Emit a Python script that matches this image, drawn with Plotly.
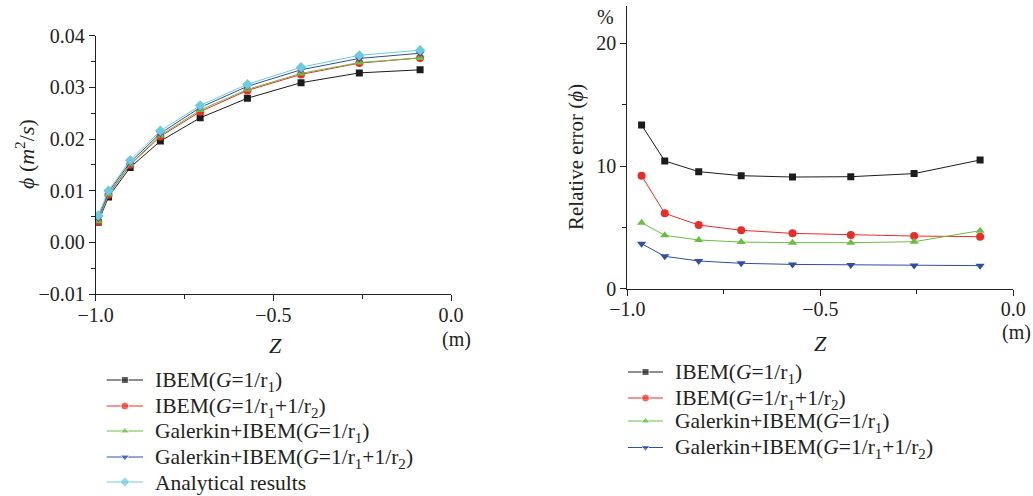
import plotly.graph_objects as go

# ---------------- data ----------------
z_left = [-0.993, -0.964, -0.903, -0.818, -0.706, -0.573, -0.422, -0.258, -0.087]
phi_ibem_g1 = [0.0039, 0.0088, 0.0145, 0.0196, 0.0241, 0.0279, 0.0309, 0.0328, 0.0334]
phi_ibem_g12 = [0.0040, 0.0092, 0.0150, 0.0205, 0.0253, 0.0294, 0.0325, 0.0347, 0.0357]
phi_gal_g1 = [0.0041, 0.0093, 0.0151, 0.0207, 0.0256, 0.0296, 0.0327, 0.0348, 0.0357]
phi_gal_g12 = [0.0047, 0.0097, 0.0155, 0.0211, 0.0261, 0.0302, 0.0334, 0.0356, 0.0366]
phi_analytical = [0.0052, 0.0100, 0.0159, 0.0216, 0.0265, 0.0306, 0.0339, 0.0362, 0.0372]

z_right = [-0.963, -0.903, -0.815, -0.705, -0.572, -0.421, -0.257, -0.086]
err_ibem_g1 = [13.34, 10.41, 9.54, 9.21, 9.10, 9.13, 9.38, 10.49]
err_ibem_g12 = [9.21, 6.14, 5.19, 4.76, 4.51, 4.38, 4.29, 4.24]
err_gal_g1 = [5.38, 4.35, 3.97, 3.80, 3.75, 3.75, 3.83, 4.73]
err_gal_g12 = [3.67, 2.64, 2.26, 2.07, 1.98, 1.93, 1.90, 1.88]

names = [
    "IBEM(<i>G</i>=1/r<sub>1</sub>)",
    "IBEM(<i>G</i>=1/r<sub>1</sub>+1/r<sub>2</sub>)",
    "Galerkin+IBEM(<i>G</i>=1/r<sub>1</sub>)",
    "Galerkin+IBEM(<i>G</i>=1/r<sub>1</sub>+1/r<sub>2</sub>)",
    "Analytical results",
]
colors = ["#1c1c1c", "#ee2b25", "#6cbd45", "#2f4ea3", "#6dcbe0"]
symbols = ["square", "circle", "triangle-up", "triangle-down", "diamond"]
msizes = [7, 8, 8, 8, 8]

FONT = "Liberation Serif"
TXT = "#222222"
W, H = 1033, 496


def fx(px):
    return px / W


def fy(py):
    return 1 - py / H


fig = go.Figure()

left_series = [phi_ibem_g1, phi_ibem_g12, phi_gal_g1, phi_gal_g12, phi_analytical]
for i, ys in enumerate(left_series):
    fig.add_trace(go.Scatter(
        x=z_left, y=ys, mode="lines+markers", name=names[i], showlegend=False,
        line=dict(color=colors[i], width=1),
        marker=dict(color=colors[i], symbol=symbols[i], size=msizes[i]),
        xaxis="x", yaxis="y",
    ))

right_series = [err_ibem_g1, err_ibem_g12, err_gal_g1, err_gal_g12]
for i, ys in enumerate(right_series):
    fig.add_trace(go.Scatter(
        x=z_right, y=ys, mode="lines+markers", name=names[i], showlegend=False,
        line=dict(color=colors[i], width=1),
        marker=dict(color=colors[i], symbol=symbols[i], size=msizes[i]),
        xaxis="x2", yaxis="y2",
    ))

# ---- custom legends (keys drawn on a pixel-space overlay axis) ----
legend_left = dict(x0=106.7, x1=143.0, tx=153.0, rows=[380.0, 406.0, 431.0, 457.0, 482.0], n=5)
legend_right = dict(x0=628.0, x1=663.0, tx=673.0, rows=[372.0, 398.0, 421.0, 447.5], n=4)

legend_annotations = []
for lg in (legend_left, legend_right):
    for i in range(lg["n"]):
        yrow = lg["rows"][i]
        xc = (lg["x0"] + lg["x1"]) / 2
        fig.add_trace(go.Scatter(
            x=[lg["x0"], xc, lg["x1"]], y=[yrow, yrow, yrow], mode="lines+markers",
            showlegend=False, hoverinfo="skip",
            line=dict(color=colors[i], width=1),
            marker=dict(color=colors[i], symbol=symbols[i], size=[0, msizes[i], 0]),
            xaxis="x3", yaxis="y3",
        ))
        legend_annotations.append(dict(
            text=names[i], x=fx(lg["tx"]), y=fy(yrow + 1), xref="paper", yref="paper",
            xanchor="left", yanchor="middle", showarrow=False,
            font=dict(family=FONT, size=21.5, color=TXT),
        ))

axis_common = dict(
    showgrid=False, zeroline=False, showline=True, linecolor=TXT, linewidth=1,
    ticks="outside", ticklen=6, tickcolor=TXT, tickwidth=1,
    tickfont=dict(family=FONT, size=20, color=TXT),
    mirror=False, automargin=False,
)

fig.update_layout(
    width=W, height=H,
    margin=dict(l=0, r=0, t=0, b=0, autoexpand=False),
    paper_bgcolor="white", plot_bgcolor="rgba(0,0,0,0)",
    font=dict(family=FONT, color=TXT),
    showlegend=False,
    xaxis=dict(domain=[fx(95.7), fx(451)], range=[-1, 0], anchor="y",
               tickvals=[-1.0, -0.5, 0.0], tickformat=".1f", ticklabelstandoff=-3,
               minor=dict(tickvals=[-0.75, -0.25], ticks="outside", ticklen=4, tickcolor=TXT),
               **axis_common),
    yaxis=dict(domain=[fy(294), fy(35.7)], range=[-0.01, 0.04], anchor="x",
               tickvals=[-0.01, 0.0, 0.01, 0.02, 0.03, 0.04], tickformat=".2f",
               minor=dict(tickvals=[-0.005, 0.005, 0.015, 0.025, 0.035], ticks="outside", ticklen=4, tickcolor=TXT),
               **axis_common),
    xaxis2=dict(domain=[fx(627.3), fx(1013.3)], range=[-1, 0], anchor="y2",
                tickvals=[-1.0, -0.5, 0.0], tickformat=".1f", ticklabelstandoff=-4,
                minor=dict(tickvals=[-0.75, -0.25], ticks="outside", ticklen=4, tickcolor=TXT),
                **axis_common),
    yaxis2=dict(domain=[fy(288.7), fy(6)], range=[0, 23.04], anchor="x2",
                tickvals=[0, 10, 20], tickformat="d",
                minor=dict(tickvals=[5, 15], ticks="outside", ticklen=4, tickcolor=TXT),
                **axis_common),
    xaxis3=dict(domain=[0, 1], range=[0, W], visible=False, fixedrange=True, automargin=False),
    yaxis3=dict(domain=[0, 1], range=[H, 0], visible=False, fixedrange=True, automargin=False,
                anchor="x3"),
)

def ann(text, px, py, size, angle=0):
    return dict(text=text, x=fx(px), y=fy(py), xref="paper", yref="paper",
                xanchor="center", yanchor="middle", showarrow=False, textangle=angle,
                font=dict(family=FONT, size=size, color=TXT))

annotations = [
    ann("<i>ϕ</i> (<i>m</i><sup>2</sup>/<i>s</i>)", 25, 154, 22, -90),
    ann("<i>Z</i>", 275, 345, 22),
    ann("(m)", 456, 339, 20),
    ann("Relative error (<i>ϕ</i>)", 576, 157, 21, -90),
    ann("<i>Z</i>", 820, 343, 22),
    ann("(m)", 1016, 332, 20),
    ann("%", 605, 17, 20),
] + legend_annotations
fig.update_layout(annotations=annotations)

fig.write_html("out.html")
